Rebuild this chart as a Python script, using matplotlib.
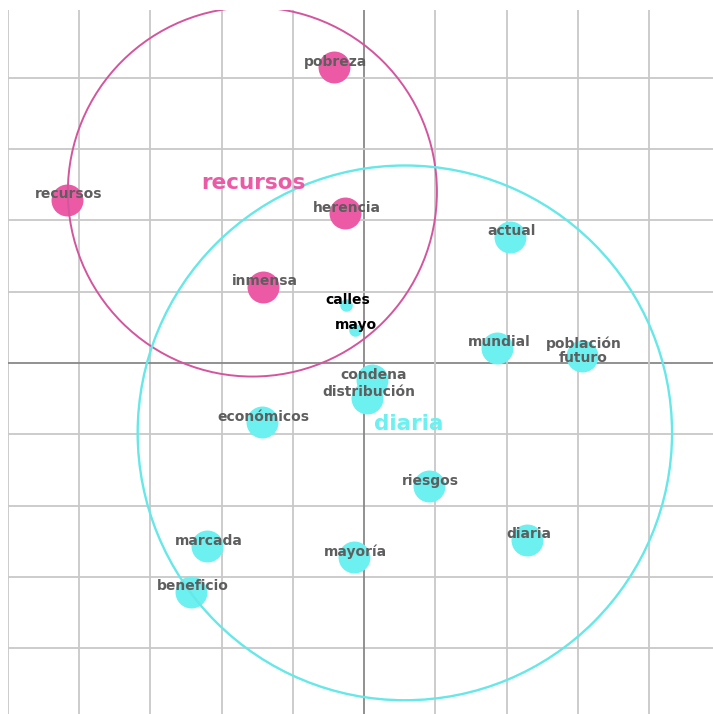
import numpy as np
import matplotlib.pyplot as plt
from matplotlib.patches import Circle

# word positions on the map
words = ["pobreza", "recursos", "herencia", "inmensa",
         "actual", "mundial", "población\nfuturo", "condena", "distribución",
         "económicos", "riesgos", "diaria", "marcada", "mayoría", "beneficio",
         "calles", "mayo"]
wx = [-0.42, -4.17, -0.27, -1.42,
      2.05, 1.87, 3.06, 0.11, 0.04,
      -1.44, 0.91, 2.29, -2.20, -0.15, -2.43,
      -0.25, -0.13]
wy = [4.15, 2.29, 2.10, 1.07,
      1.77, 0.21, 0.10, -0.24, -0.49,
      -0.83, -1.73, -2.48, -2.57, -2.72, -3.21,
      0.81, 0.46]
group = [0, 0, 0, 0,
         1, 1, 1, 1, 1,
         1, 1, 1, 1, 1, 1,
         1, 1]
big = [1, 1, 1, 1,
       1, 1, 1, 1, 1,
       1, 1, 1, 1, 1, 1,
       0, 0]

# clusters
cl_names = ["recursos", "diaria"]
cl_cx = [-1.57, 0.57]
cl_cy = [2.40, -0.98]
cl_r = [2.59, 3.75]
cl_lx = [-1.55, 0.62]
cl_ly = [2.52, -0.86]

pink = "#ec5aa6"
cyan = "#6cf0f0"
cols = [pink, cyan]
edge = ["#d4559e", "#66e8e8"]

fig = plt.figure(figsize=(7.13, 7.14), dpi=100)
ax = fig.add_axes([8 / 713, 0, 1 - 8 / 713, 1 - 10 / 714])
ax.set_xlim(-5, (713 - 364) / 71.3)
ax.set_ylim(-(714 - 363) / 71.3, (363 - 10) / 71.3)
for s in ax.spines.values():
    s.set_visible(False)
ax.set_xticks([])
ax.set_yticks([])

for g in range(-5, 6):
    c = "#888888" if g == 0 else "#c8c8c8"
    ax.axvline(g, color=c, lw=1.3, zorder=0)
    ax.axhline(g, color=c, lw=1.3, zorder=0)

for i in range(len(words)):
    ms = 23 if big[i] else 9
    ax.plot(wx[i], wy[i], "o", ms=ms, color=cols[group[i]], mec="none", zorder=2)

for k in range(2):
    ax.add_patch(Circle((cl_cx[k], cl_cy[k]), cl_r[k], fill=False,
                        ec=edge[k], lw=[1.4, 1.7][k], zorder=3))

for i in range(len(words)):
    tc = "#5e5e5e" if big[i] else "black"
    ax.annotate(words[i], (wx[i], wy[i]), xytext=(1, 4), textcoords="offset points",
                ha="center", va="center", fontsize=10, fontweight="bold",
                color=tc, zorder=4, linespacing=1.0)

for k in range(2):
    ax.text(cl_lx[k], cl_ly[k], cl_names[k], ha="center", va="center",
            fontsize=15.5, fontweight="bold", color=cols[k], zorder=4)

fig.savefig("out.png", dpi=100)
